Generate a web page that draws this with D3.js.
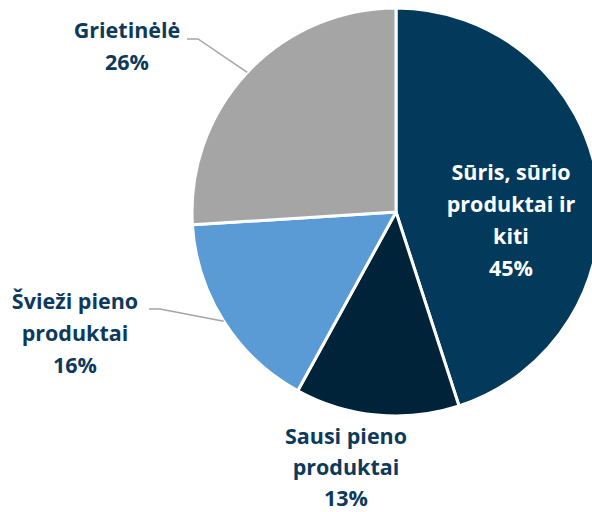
<!DOCTYPE html>
<html>
<head>
<meta charset="utf-8">
<script src="https://cdn.jsdelivr.net/npm/d3@7"></script>
<style>
  html, body { margin: 0; padding: 0; background: #fff; }
  svg { display: block; }
  text { font-family: "Open Sans", sans-serif; font-weight: 700; font-size: 21.5px; }
</style>
</head>
<body>
<svg id="chart" width="592" height="512"></svg>
<script>
// data
var categories = ["Sūris, sūrio produktai ir kiti", "Sausi pieno produktai", "Švieži pieno produktai", "Grietinėlė"];
var shares = [45, 13, 16, 26];
var colors = ["#033a5c", "#012339", "#5b9bd5", "#a5a5a5"];

// label lines as shown in the picture
var labelLines = [
    ["Sūris, sūrio", "produktai ir", "kiti"],
    ["Sausi pieno", "produktai"],
    ["Švieži pieno", "produktai"],
    ["Grietinėlė"]
];

var width = 592, height = 512,
    cx = 396, cy = 212, radius = 204;

var svg = d3.select("#chart");
var g = svg.append("g").attr("transform", "translate(" + cx + "," + cy + ")");

var data = categories.map(function (c, i) {
    return {name: c, value: shares[i], color: colors[i], lines: labelLines[i]};
});

var pie = d3.pie()
    .sort(null)
    .value(function (d) {return d.value});

var arc = d3.arc()
    .innerRadius(0)
    .outerRadius(radius);

var arcs = pie(data);

g.selectAll("path.slice")
    .data(arcs)
    .enter()
    .append("path")
    .attr("class", "slice")
    .attr("d", arc)
    .attr("fill", function (d) {return d.data.color})
    .attr("stroke", "#fff")
    .attr("stroke-width", 3)
    .attr("stroke-linejoin", "round");

// label layout (relative to pie center)
var layout = [
    {x: 115, y: -40, lh: 32, fill: "#fff"},
    {x: -50, y: 224, lh: 31, fill: "#0d3a5c"},
    {x: -321, y: 89, lh: 32, leader: {x0: -247, x1: -236, y: 97}, fill: "#0d3a5c"},
    {x: -269, y: -182, lh: 32, leader: {x0: -209, x1: -198, y: -173}, fill: "#0d3a5c"}
];

var leaderArc = d3.arc().innerRadius(radius).outerRadius(radius);

arcs.forEach(function (a, i) {
    var L = layout[i];
    var lines = a.data.lines.concat([a.data.value + "%"]);
    var t = g.append("text")
        .attr("text-anchor", "middle")
        .attr("fill", L.fill);
    lines.forEach(function (s, k) {
        t.append("tspan")
            .attr("x", L.x)
            .attr("y", L.y + k * L.lh)
            .attr("dy", "0.35em")
            .text(s);
    });
    if (L.leader) {
        var p = leaderArc.centroid(a);
        g.append("polyline")
            .attr("points", [[L.leader.x0, L.leader.y], [L.leader.x1, L.leader.y], p].map(function (q) {return q.join(",")}).join(" "))
            .attr("fill", "none")
            .attr("stroke", "#a5a5a5")
            .attr("stroke-width", 1.5);
    }
});
</script>
</body>
</html>
